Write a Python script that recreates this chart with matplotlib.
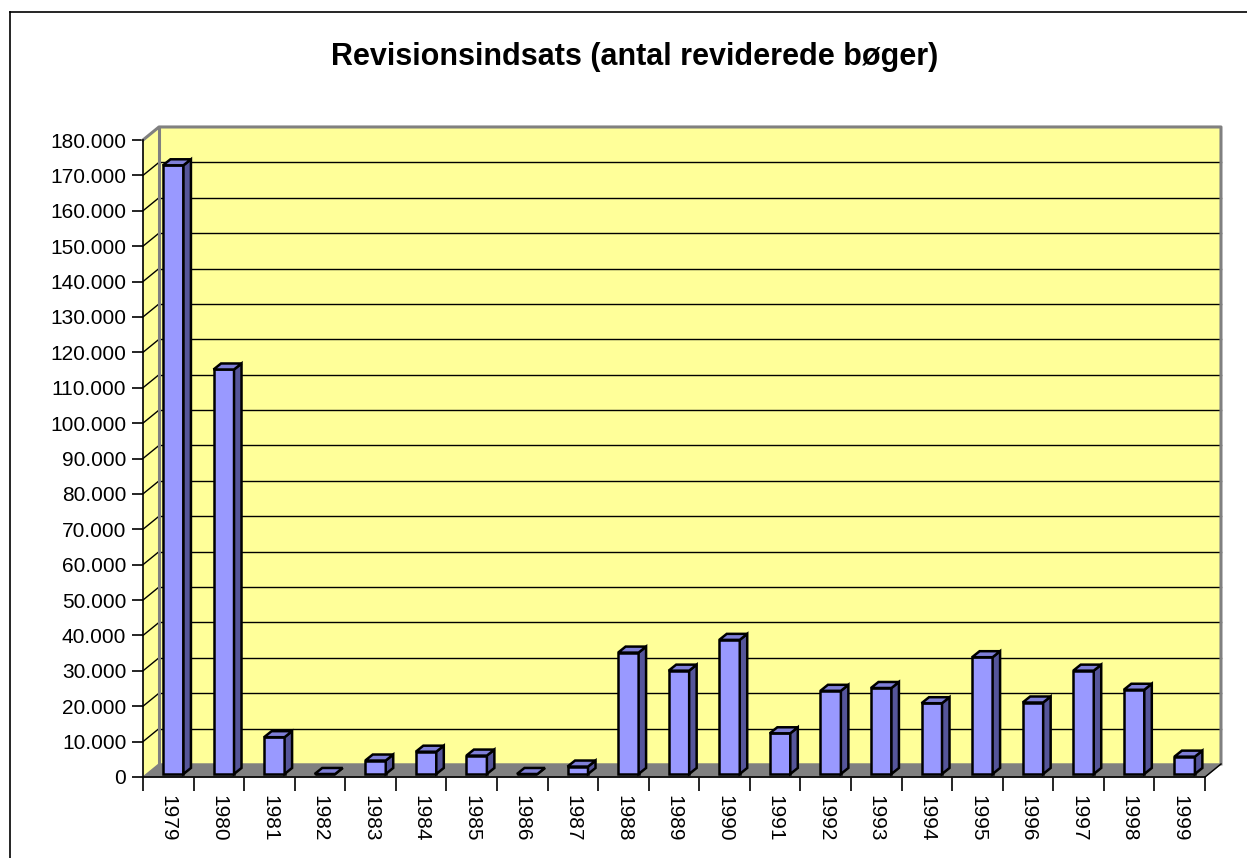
import matplotlib.pyplot as plt
from matplotlib.patches import Polygon
from matplotlib.lines import Line2D
from matplotlib.ticker import FuncFormatter

plt.rcParams['font.family'] = ['Liberation Sans', 'DejaVu Sans']

# data
years = [str(y) for y in range(1979, 2000)]
books = [172000, 114300, 10400, 0, 3800, 6300, 5200, 0, 2100, 34300,
         29200, 37900, 11500, 23500, 24300, 20000, 33000, 20200, 29200,
         23800, 4900]
y_ticks = list(range(0, 180001, 10000))

# 3d look (data units)
wall_dx, wall_dy = 0.316, 3680
bar_off, bar_w = 0.395, 0.405
bar_dx, bar_dy = 0.148, 1700
bar_base = 850

wall_col = '#FFFF99'
floor_col = '#808080'
face_col = '#9999FF'
side_col = '#55559A'
top_col = '#7F7FD8'

fig = plt.figure(figsize=(12.47, 8.58), dpi=100)
ax = fig.add_axes([143 / 1247, 1 - 777 / 858, 1062 / 1247, 637 / 858])
n = len(years)
ymax = y_ticks[-1]
ax.set_xlim(0, n)
ax.set_ylim(0, ymax)
ax.patch.set_visible(False)

# back wall + side wall
ax.add_patch(Polygon([(wall_dx, wall_dy), (n + wall_dx, wall_dy),
                      (n + wall_dx, ymax + wall_dy), (wall_dx, ymax + wall_dy)],
                     closed=True, facecolor=wall_col, edgecolor='none',
                     zorder=1, clip_on=False))
ax.add_patch(Polygon([(0, 0), (wall_dx, wall_dy), (wall_dx, ymax + wall_dy), (0, ymax)],
                     closed=True, facecolor=wall_col, edgecolor='none',
                     zorder=1, clip_on=False))
# gridlines (not the top one, that is the wall border)
for v in y_ticks[1:-1]:
    ax.plot([wall_dx, n + wall_dx], [v + wall_dy, v + wall_dy], color='black',
            lw=1, zorder=2, clip_on=False)
    ax.plot([0, wall_dx], [v, v + wall_dy], color='black', lw=1, zorder=2,
            clip_on=False)
# wall borders
ax.plot([0, wall_dx, n + wall_dx, n + wall_dx], [ymax, ymax + wall_dy, ymax + wall_dy, wall_dy],
        color='#808080', lw=2.2, zorder=2, clip_on=False)
ax.plot([wall_dx, wall_dx], [wall_dy, ymax + wall_dy], color='#808080', lw=2.2,
        zorder=2, clip_on=False)
# floor
ax.add_patch(Polygon([(0, 0), (n, 0), (n + wall_dx, wall_dy), (wall_dx, wall_dy)],
                     closed=True, facecolor=floor_col, edgecolor='#808080',
                     lw=1, zorder=3, clip_on=False))
ax.plot([n, n + wall_dx], [0, wall_dy], color='black', lw=1, zorder=3, clip_on=False)

# bars
xs = [i + bar_off for i in range(n)]
ax.bar(xs, books, width=bar_w, bottom=bar_base, align='edge', color=face_col,
       edgecolor='black', lw=1.8, zorder=5)
for x0, v in zip(xs, books):
    x1 = x0 + bar_w
    top = bar_base + v
    ax.add_patch(Polygon([(x1, bar_base), (x1 + bar_dx, bar_base + bar_dy),
                          (x1 + bar_dx, top + bar_dy), (x1, top)],
                         closed=True, facecolor=side_col, edgecolor='black',
                         lw=1.8, zorder=5, clip_on=False))
    ax.add_patch(Polygon([(x0, top), (x1, top), (x1 + bar_dx, top + bar_dy),
                          (x0 + bar_dx, top + bar_dy)],
                         closed=True, facecolor=top_col, edgecolor='black',
                         lw=1.8, zorder=5, clip_on=False))

# axes
for s in ['top', 'right']:
    ax.spines[s].set_visible(False)
for s in ['left', 'bottom']:
    ax.spines[s].set_color('black')
    ax.spines[s].set_linewidth(1.2)
    ax.spines[s].set_zorder(6)

ax.set_yticks(y_ticks)
ax.yaxis.set_major_formatter(FuncFormatter(lambda v, p: f"{int(v):,}".replace(',', '.')))
ax.tick_params(axis='y', direction='out', length=8, width=1.2, labelsize=15, pad=4)

ax.set_xticks(range(n + 1))
ax.set_xticklabels([])
ax.set_xticks([i + 0.5 for i in range(n)], minor=True)
ax.set_xticklabels(years, minor=True, rotation=-90, fontsize=15)
ax.tick_params(axis='x', which='major', direction='out', length=10, width=1.2)
ax.tick_params(axis='x', which='minor', length=0, pad=13)

fig.text(635 / 1247, 1 - 57 / 858, 'Revisionsindsats (antal reviderede bøger)',
         ha='center', va='center', fontsize=22, fontweight='bold')

# chart border
fig.add_artist(Line2D([10 / 1247, 10 / 1247], [0, 1 - 12 / 858], color='black', lw=1.2))
fig.add_artist(Line2D([10 / 1247, 1], [1 - 12 / 858, 1 - 12 / 858], color='black', lw=1.2))

fig.savefig('out.png', dpi=100)
